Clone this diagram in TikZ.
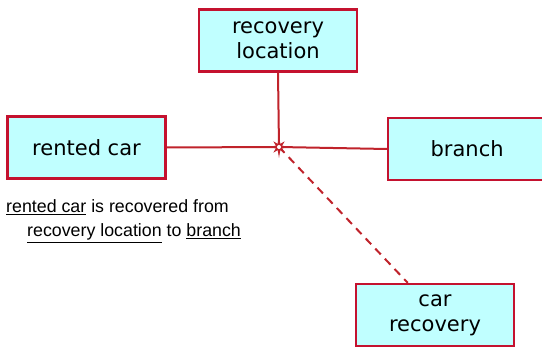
\documentclass[tikz,border=0pt]{standalone}
\usepackage{fontspec}
\setmainfont{DejaVu Sans}
\newfontfamily\notefont{Liberation Sans}
\usepackage{xcolor}
\usetikzlibrary{positioning,calc}
\definecolor{boxfill}{HTML}{C0FFFF}
\definecolor{boxline}{HTML}{C4122F}
\definecolor{linkred}{HTML}{C0232B}

\tikzset{
    entity/.style={draw=boxline, fill=boxfill, line width=2.2pt, minimum width=158pt, minimum height=62pt,
        align=center, font=\fontsize{21}{25}\selectfont, inner sep=0pt},
    link/.style={draw=linkred, line width=2pt},
    note/.style={anchor=base west, font=\notefont\fontsize{17.8}{24}\selectfont, inner sep=0pt},
}

\begin{document}
\begin{tikzpicture}[x=1pt, y=1pt]
    \clip (0,0) rectangle (542,348);
    \fill[white] (0,0) rectangle (542,348);
    \node[entity] (loc) at (278,307.5) {recovery\\location};
    \node[entity] (car) at (86.5,200.5) {rented car};
    \node[entity, anchor=west] (branch) at (387,199) {branch};
    \node[entity] (recov) at (435,33) {car\\recovery};
    \coordinate (hub) at (279,201);
    \coordinate (dashend) at ($(recov.north west)!0.33!(recov.north east)$);
    % connectors
    \draw[link] (car.east) -- (hub);
    \draw[link] (branch.west) -- (hub);
    \draw[link] (loc.south) -- (hub);
    \draw[link, dash pattern=on 8pt off 6pt] (hub) -- (dashend);
    % junction star
    \begin{scope}[shift={(hub)}]
        \fill[linkred] (0:11pt) -- (22.5:3.4pt) -- (45:8pt) -- (67.5:3.4pt) -- (90:11pt) -- (112.5:3.4pt)
            -- (135:8pt) -- (157.5:3.4pt) -- (180:11pt) -- (202.5:3.4pt) -- (225:8pt) -- (247.5:3.4pt)
            -- (270:11pt) -- (292.5:3.4pt) -- (315:8pt) -- (337.5:3.4pt) -- cycle;
        \fill[white] (0,0) circle (2pt);
    \end{scope}
    % annotation
    \node[note] (note1) at (6,135) {\underline{rented car} is recovered from};
    \node[note] (note2) at (27,111) {\underline{recovery location} to \underline{branch}};
\end{tikzpicture}
\end{document}
